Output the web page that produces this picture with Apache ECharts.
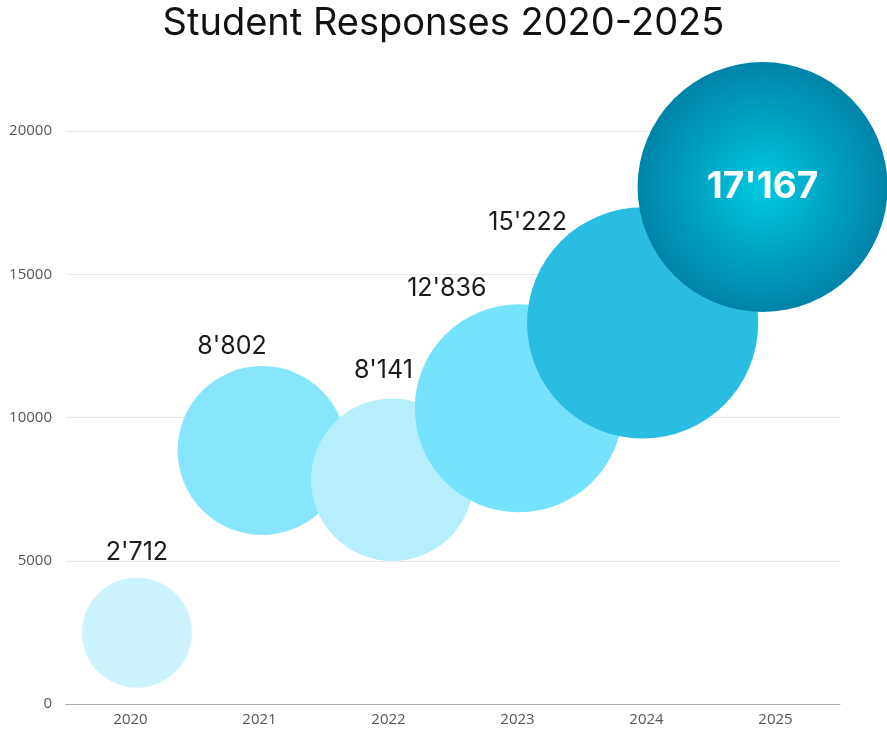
<!DOCTYPE html>
<html>
<head>
<meta charset="utf-8">
<script src="https://cdn.jsdelivr.net/npm/echarts@6/dist/echarts.min.js"></script>
<style>
html,body{margin:0;padding:0;background:#fff;}
#chart{width:887px;height:731px;}
</style>
</head>
<body>
<div id="chart"></div>
<script>
// ---- data ----
const years = ['2020', '2021', '2022', '2023', '2024', '2025'];
const xValues = [2020.05, 2021.02, 2022.03, 2023.01, 2023.97, 2024.9];
const yValues = [2490, 8850, 7830, 10320, 13300, 18045];
const responses = [2712, 8802, 8141, 12836, 15222, 17167];
const yTicks = [0, 5000, 10000, 15000, 20000];

// ---- styles ----
const bubbleColors = ['#cdf3fe', '#87e5fd', '#b5eefc', '#77e2fe', '#2abde2', null];
const labelOffsets = [[0, -80], [-30, -104], [-9, -109], [-72, -120], [-115, -100], [0, 0]];
const minD = 110, maxD = 250;

function fmt(v) {
  return String(v).replace(/\B(?=(\d{3})+(?!\d))/g, "'");
}
const vMin = Math.min(...responses), vMax = Math.max(...responses);
function sizeOf(v) {
  return minD + (v - vMin) / (vMax - vMin) * (maxD - minD);
}

const data = years.map((y, i) => {
  const last = i === years.length - 1;
  return {
    value: [xValues[i], yValues[i], responses[i]],
    itemStyle: {
      color: last ? {
        type: 'radial', x: 0.5, y: 0.5, r: 0.5,
        colorStops: [
          { offset: 0, color: '#00c9df' },
          { offset: 1, color: '#0083a9' }
        ]
      } : bubbleColors[i],
      opacity: 1
    },
    label: last ? {
      show: true, position: 'inside',
      color: '#ffffff', fontSize: 37, fontWeight: 'bold',
      fontFamily: 'Inter', offset: labelOffsets[i]
    } : {
      show: true, position: 'inside',
      color: '#1a1a1a', fontSize: 25, fontWeight: 'normal',
      fontFamily: 'Inter', offset: labelOffsets[i]
    }
  };
});

const chart = echarts.init(document.getElementById('chart'));
chart.setOption({
  animation: false,
  backgroundColor: '#ffffff',
  title: {
    text: 'Student Responses 2020-2025',
    left: 'center', top: 0,
    textStyle: { fontFamily: 'Inter', fontSize: 38, fontWeight: 'normal', color: '#111' }
  },
  grid: { left: 66, right: 47, top: 131, bottom: 27, containLabel: false },
  xAxis: [{
    type: 'category',
    data: years,
    boundaryGap: true,
    axisLine: { lineStyle: { color: '#aaaaaa' } },
    axisTick: { show: false },
    axisLabel: { color: '#555', fontFamily: 'Open Sans', fontSize: 15, margin: 8 },
    splitLine: { show: false }
  }, {
    type: 'value',
    min: 2019.5, max: 2025.5,
    show: false
  }],
  yAxis: {
    type: 'value',
    min: yTicks[0], max: yTicks[yTicks.length - 1], interval: yTicks[1] - yTicks[0],
    axisLine: { show: false },
    axisTick: { show: false },
    axisLabel: { color: '#555', fontFamily: 'Open Sans', fontSize: 15, margin: 14, formatter: (v) => String(v) },
    splitLine: { lineStyle: { color: '#e6e6e6' } }
  },
  series: [{
    type: 'scatter',
    xAxisIndex: 1,
    clip: false,
    data: data,
    symbolSize: (val) => sizeOf(val[2]),
    label: { formatter: (p) => fmt(p.value[2]) },
    emphasis: { disabled: true }
  }]
});
</script>
</body>
</html>
